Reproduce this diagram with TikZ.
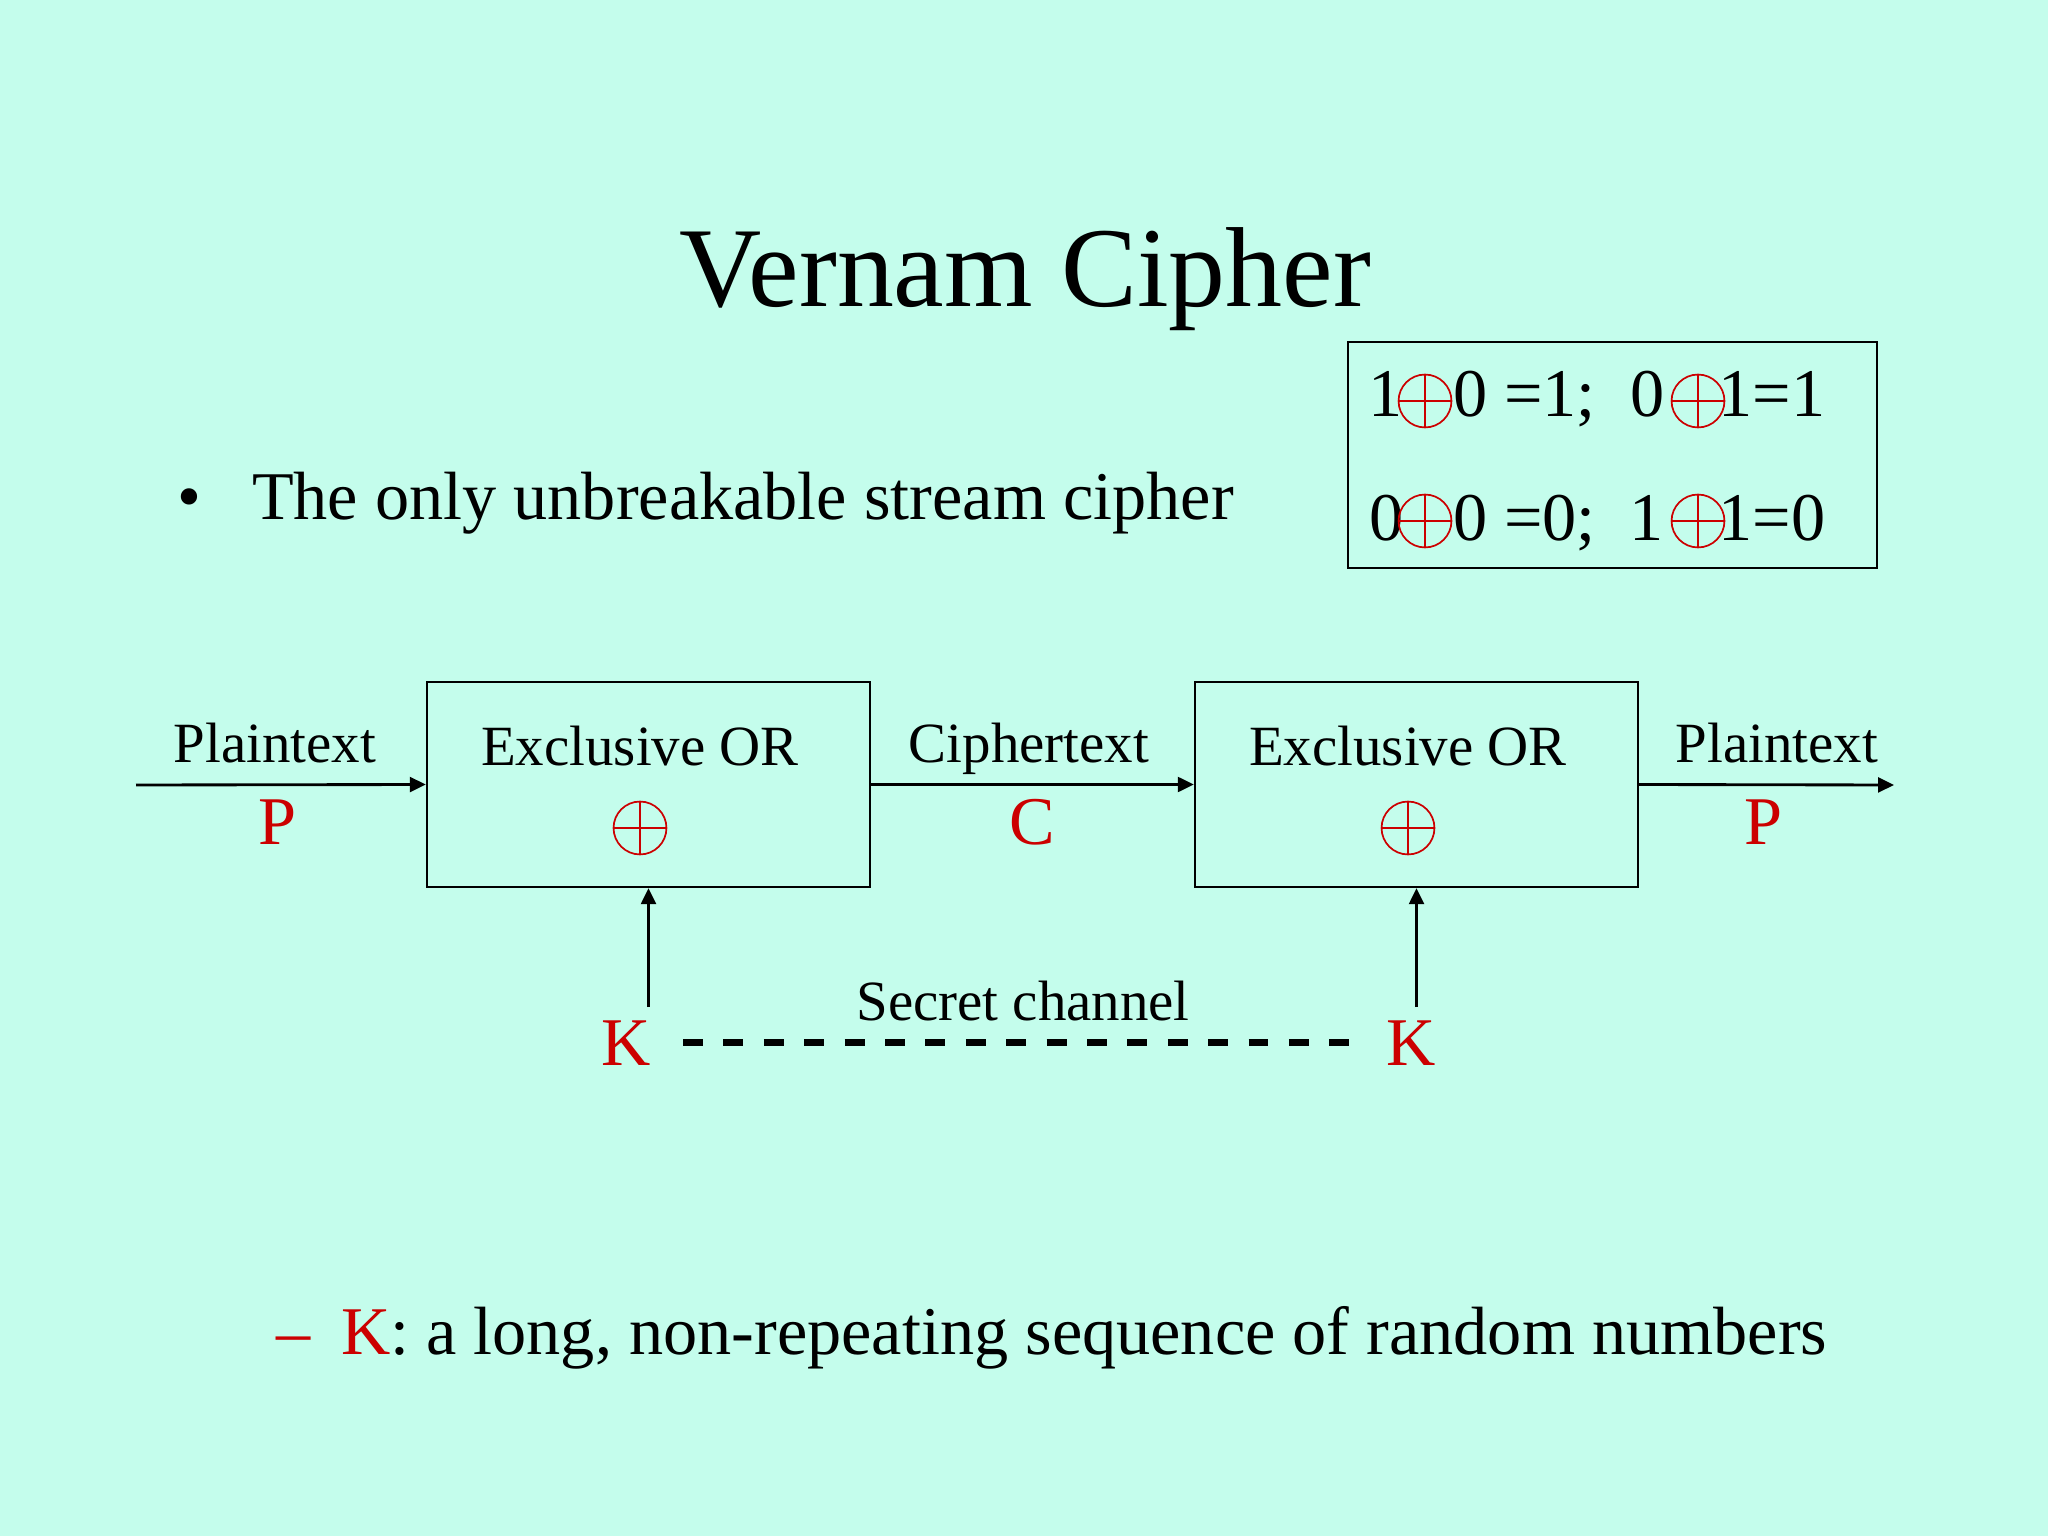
\documentclass[tikz,border=0pt]{standalone}
\usepackage{fontspec}
\setmainfont{Liberation Serif}
\usetikzlibrary{arrows.meta}
\definecolor{bgmint}{RGB}{196,253,236}
\definecolor{xred}{RGB}{204,0,0}
\tikzset{
  txt/.style={inner sep=0pt, outer sep=0pt, font=\fontsize{24}{28}\selectfont},
  lbl/.style={inner sep=0pt, outer sep=0pt, font=\fontsize{20}{24}\selectfont},
  redlbl/.style={txt, text=xred},
  xorbox/.style={draw, line width=0.8pt, minimum width=155.8pt, minimum height=72.1pt, inner sep=0pt},
  xorsym/.style={circle, draw=xred, line width=0.6pt, minimum size=18.6pt, inner sep=0pt,
    path picture={\draw[xred, line width=0.6pt]
      (path picture bounding box.north) -- (path picture bounding box.south)
      (path picture bounding box.west) -- (path picture bounding box.east);}},
  arr/.style={line width=1pt, -{Triangle[length=5.6pt, width=5.2pt]}},
  secret/.style={line width=2.3pt, dash pattern=on 7pt off 7.2pt},
}
\begin{document}
\begin{tikzpicture}[x=0.35156pt, y=-0.35156pt]
\useasboundingbox[fill=bgmint] (0,0) rectangle (2048,1536);

% title
\node[inner sep=0pt, font=\fontsize{40}{48}\selectfont, anchor=base] (title) at (1025,307) {Vernam Cipher};

% bullet
\node[txt, anchor=base] (bullet) at (189,520) {•};
\node[txt, anchor=base west] (btext) at (252,520) {The only unbreakable stream cipher};

% XOR table
\draw[line width=0.8pt] (1348,342) rectangle (1877,568);
\node[txt, anchor=base west] (t1a) at (1368.5,417) {1};
\node[txt, anchor=base west] (t1b) at (1453,417) {0 =1;};
\node[txt, anchor=base west] (t1c) at (1630,417) {0};
\node[txt, anchor=base west] (t1d) at (1718.5,417) {1=1};
\node[txt, anchor=base west] (t2a) at (1369,541) {0};
\node[txt, anchor=base west] (t2b) at (1453,541) {0 =0;};
\node[txt, anchor=base west] (t2c) at (1629.5,541) {1};
\node[txt, anchor=base west] (t2d) at (1718.5,541) {1=0};
\node[xorsym] (s1) at (1425,401) {};
\node[xorsym] (s2) at (1698,401) {};
\node[xorsym] (s3) at (1425,521) {};
\node[xorsym] (s4) at (1698,521) {};

% diagram boxes
\node[xorbox] (b1) at (648.5,784.5) {};
\node[xorbox] (b2) at (1416.5,784.5) {};
\node[lbl, anchor=base] (b1t) at (640,765) {Exclusive OR};
\node[lbl, anchor=base] (b2t) at (1408,765) {Exclusive OR};
\node[xorsym] (b1s) at (640,828) {};
\node[xorsym] (b2s) at (1408,828) {};

% main flow
\coordinate (in) at (136,785);
\coordinate (out) at (1894,785);
\draw[arr] (in) -- (b1.west);
\draw[arr] (b1.east) -- (b2.west);
\draw[arr] (b2.east) -- (out);

\node[lbl, anchor=base] (pt1) at (275,763) {Plaintext};
\node[redlbl, anchor=base] (p1) at (277,844) {P};
\node[lbl, anchor=base] (ct) at (1029,763) {Ciphertext};
\node[redlbl, anchor=base] (c) at (1032,844) {C};
\node[lbl, anchor=base] (pt2) at (1777,763) {Plaintext};
\node[redlbl, anchor=base] (p2) at (1763,844) {P};

% keys
\node[redlbl, anchor=base] (kl) at (626,1065) {K};
\node[redlbl, anchor=base] (kr) at (1411,1065) {K};
\coordinate (k1top) at (648.5,1007);
\coordinate (k2top) at (1416.5,1007);
\draw[arr] (k1top) -- (b1.south);
\draw[arr] (k2top) -- (b2.south);
\draw[secret, shorten <=11.4pt, shorten >=13.2pt] (kl.east) -- (kr.west);
\node[lbl, anchor=base] (sc) at (1023,1020) {Secret channel};

% bottom line
\node[redlbl, anchor=base west] (dash) at (276,1354) {–};
\node[txt, anchor=base west] (ktext) at (341,1354) {\textcolor{xred}{K}: a long, non-repeating sequence of random numbers};
\end{tikzpicture}
\end{document}
